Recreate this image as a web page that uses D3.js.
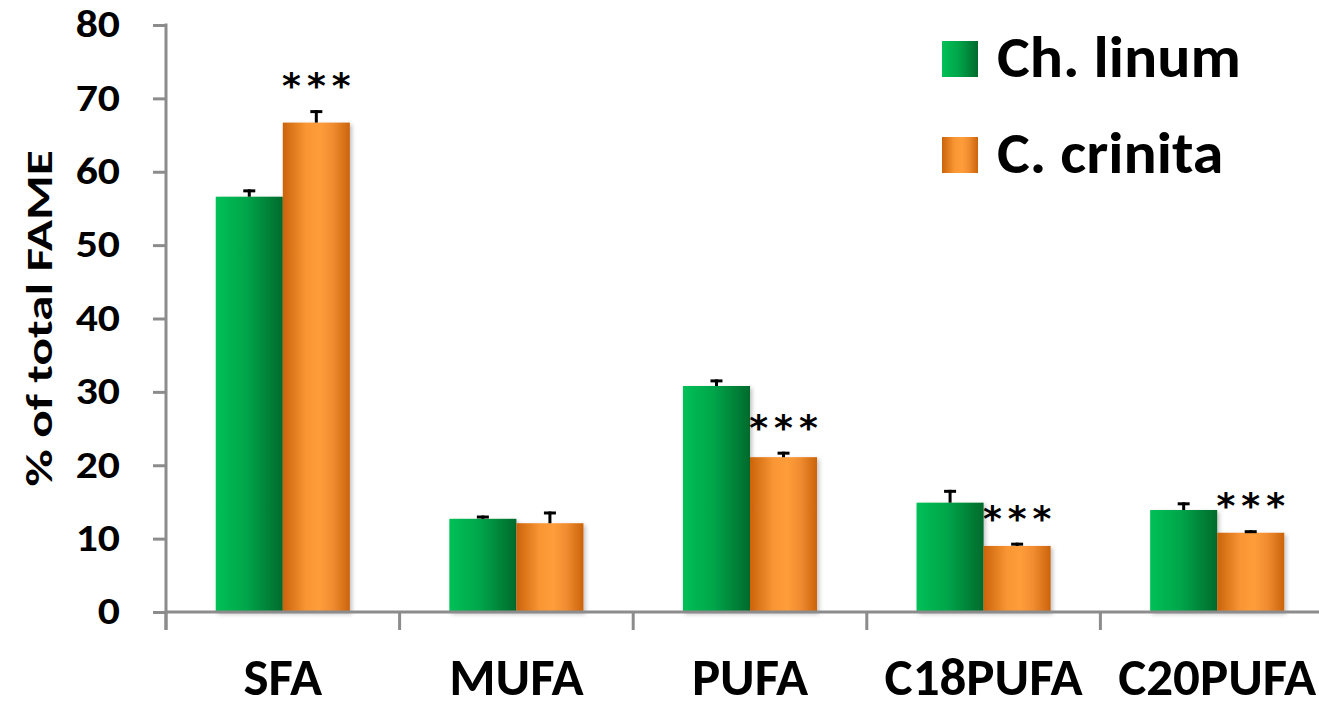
<!DOCTYPE html>
<html>
<head>
<meta charset="utf-8">
<script src="https://cdn.jsdelivr.net/npm/d3@7"></script>
<style>
  body { margin: 0; background: #fff; }
  svg { display: block; font-family: Carlito, Lato, "Open Sans", sans-serif; }
</style>
</head>
<body>
<div id="chart"></div>
<script>
// data
const categories = ["SFA", "MUFA", "PUFA", "C18PUFA", "C20PUFA"];
const seriesNames = ["Ch. linum", "C. crinita"];
const chLinum = [56.6, 12.7, 30.8, 14.9, 13.9];
const chLinumErr = [1.0, 0.45, 0.9, 1.75, 1.05];
const cCrinita = [66.7, 12.1, 21.1, 9.0, 10.8];
const cCrinitaErr = [1.7, 1.6, 0.75, 0.45, 0.35];
const crinitaSig = ["***", "", "***", "***", "***"];
const yTicks = [0, 10, 20, 30, 40, 50, 60, 70, 80];

let width = 1319,
    height = 701,
    margin = ({ top: 25, right: -15, bottom: 89, left: 166 });

const svg = d3.select("#chart")
  .append("svg")
  .attr("width", width)
  .attr("height", height);

// the original text is drawn a bit wider than the font, stretch it the same way
function stretch(sel, k) {
  sel.each(function() {
    const w = this.getComputedTextLength();
    d3.select(this).attr("textLength", w * k).attr("lengthAdjust", "spacingAndGlyphs");
  });
}

const defs = svg.append("defs");

// green bars: bright on the left, dark on the right
const gGreen = defs.append("linearGradient").attr("id", "gradGreen");
gGreen.append("stop").attr("offset", "0%").attr("stop-color", "#00c056");
gGreen.append("stop").attr("offset", "45%").attr("stop-color", "#00a64a");
gGreen.append("stop").attr("offset", "100%").attr("stop-color", "#006a2c");

// orange bars: dark edges, light middle
const gOrange = defs.append("linearGradient").attr("id", "gradOrange");
gOrange.append("stop").attr("offset", "0%").attr("stop-color", "#cb630b");
gOrange.append("stop").attr("offset", "35%").attr("stop-color", "#f99634");
gOrange.append("stop").attr("offset", "55%").attr("stop-color", "#ff9d3b");
gOrange.append("stop").attr("offset", "75%").attr("stop-color", "#f08c30");
gOrange.append("stop").attr("offset", "100%").attr("stop-color", "#cb630b");

const shadow = defs.append("filter").attr("id", "shadow")
  .attr("x", "-10%").attr("y", "-10%").attr("width", "130%").attr("height", "130%");
shadow.append("feDropShadow")
  .attr("dx", 2).attr("dy", 2).attr("stdDeviation", 2)
  .attr("flood-color", "#000").attr("flood-opacity", 0.25);

const fills = ["url(#gradGreen)", "url(#gradOrange)"];

let x0 = d3.scaleBand()
  .domain(categories)
  .range([margin.left, width - margin.right])
  .padding(0);

let x1 = d3.scaleBand()
  .domain(seriesNames)
  .range([x0.bandwidth() * 0.213, x0.bandwidth() * 0.787]);

let y = d3.scaleLinear()
  .domain([0, 80])
  .range([height - margin.bottom, margin.top]);

const axisColor = "#8c8c8c";

// y axis
svg.append("g")
  .attr("transform", `translate(${margin.left},0)`)
  .call(d3.axisLeft(y).tickValues(yTicks).tickSize(13).tickPadding(33).tickSizeOuter(0))
  .attr("font-family", null)
  .call(g => g.select(".domain").remove())
  .call(g => g.selectAll(".tick line").attr("stroke", axisColor).attr("stroke-width", 3))
  .call(g => g.selectAll(".tick text")
    .attr("fill", "#000")
    .attr("font-size", 38)
    .attr("font-weight", "bold")
    .attr("dy", "0.31em")
    .call(stretch, 1.15));

svg.append("line")
  .attr("x1", margin.left).attr("x2", margin.left)
  .attr("y1", margin.top - 1.5).attr("y2", y(0) + 18)
  .attr("stroke", axisColor).attr("stroke-width", 3);

// x axis: labels at band centres, ticks at band edges
svg.append("g")
  .attr("transform", `translate(0,${y(0)})`)
  .call(d3.axisBottom(x0).tickSize(0).tickSizeOuter(0))
  .attr("font-family", null)
  .call(g => g.select(".domain").remove())
  .call(g => g.selectAll(".tick text")
    .attr("fill", "#000")
    .attr("y", 83)
    .attr("dy", null)
    .attr("font-size", 53)
    .attr("font-weight", "bold"));

svg.append("g")
  .selectAll("line")
  .data(categories)
  .join("line")
  .attr("x1", d => x0(d)).attr("x2", d => x0(d))
  .attr("y1", y(0)).attr("y2", y(0) + 18)
  .attr("stroke", axisColor).attr("stroke-width", 3);

// bars
const rows = categories.map((c, i) => ({
  cat: c,
  vals: [
    { s: 0, v: chLinum[i], e: chLinumErr[i], sig: "" },
    { s: 1, v: cCrinita[i], e: cCrinitaErr[i], sig: crinitaSig[i] }
  ]
}));

const groups = svg.append("g")
  .selectAll("g")
  .data(rows)
  .join("g")
  .attr("transform", d => `translate(${x0(d.cat)},0)`);

groups.selectAll("rect")
  .data(d => d.vals)
  .join("rect")
  .attr("x", d => x1(seriesNames[d.s]))
  .attr("y", d => y(d.v))
  .attr("width", x1.bandwidth())
  .attr("height", d => y(0) - y(d.v))
  .attr("fill", d => fills[d.s])
  .attr("filter", "url(#shadow)");

// x axis line drawn over bar bottoms
svg.append("line")
  .attr("x1", margin.left - 1.5).attr("x2", width)
  .attr("y1", y(0)).attr("y2", y(0))
  .attr("stroke", axisColor).attr("stroke-width", 3);

// error bars (upper half only)
const err = groups.selectAll("g.err")
  .data(d => d.vals)
  .join("g")
  .attr("class", "err")
  .attr("transform", d => `translate(${x1(seriesNames[d.s]) + x1.bandwidth() / 2},0)`);

err.append("line")
  .attr("y1", d => y(d.v)).attr("y2", d => y(d.v + d.e))
  .attr("stroke", "#000").attr("stroke-width", 3);
err.append("line")
  .attr("x1", -6).attr("x2", 6)
  .attr("y1", d => y(d.v + d.e) + 1.5).attr("y2", d => y(d.v + d.e) + 1.5)
  .attr("stroke", "#000").attr("stroke-width", 3);

// significance stars
err.filter(d => d.sig)
  .append("text")
  .attr("text-anchor", "middle")
  .attr("y", d => y(d.v + d.e) - 12)
  .attr("font-family", "'DejaVu Sans', sans-serif")
  .attr("font-weight", "bold")
  .attr("font-size", 36)
  .attr("letter-spacing", 6)
  .attr("dx", 3)
  .text(d => d.sig);

// y axis title
svg.append("text")
  .attr("transform", `translate(52,${y(40)}) rotate(-90)`)
  .attr("text-anchor", "middle")
  .attr("font-size", 37)
  .attr("font-weight", "bold")
  .text("% of total FAME")
  .call(stretch, 1.38);

// legend
const legend = svg.append("g")
  .selectAll("g")
  .data(seriesNames)
  .join("g")
  .attr("transform", (d, i) => `translate(942,${41 + i * 96})`);

legend.append("rect")
  .attr("width", 36).attr("height", 36)
  .attr("fill", (d, i) => fills[i]);

legend.append("text")
  .attr("x", 55).attr("y", 36)
  .attr("font-size", 59)
  .attr("font-weight", "bold")
  .text(d => d)
  .call(stretch, 1.05);
</script>
</body>
</html>
